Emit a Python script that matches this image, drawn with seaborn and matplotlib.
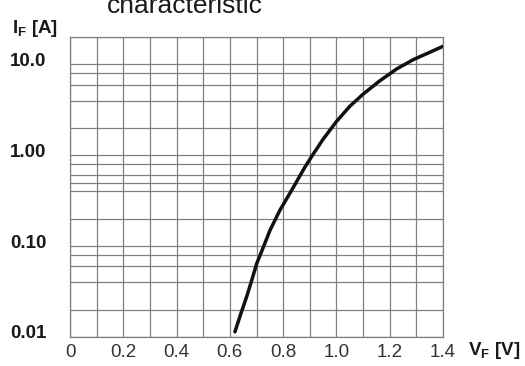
import matplotlib
matplotlib.use("Agg")
import matplotlib.pyplot as plt
import matplotlib.transforms as mtransforms
from matplotlib.ticker import FixedLocator, NullFormatter
import seaborn as sns
import pandas as pd

# ---- data ----
vf_volts = [0.619, 0.641, 0.663, 0.682, 0.701, 0.726, 0.751, 0.788, 0.832, 0.882,
            0.910, 0.950, 1.000, 1.050, 1.100, 1.160, 1.226, 1.289, 1.351, 1.400]
if_amps = [0.0114, 0.018, 0.0277, 0.042, 0.0645, 0.098, 0.150, 0.249, 0.412, 0.743,
           1.0, 1.5, 2.35, 3.45, 4.7, 6.5, 8.9, 11.3, 13.6, 15.8]

x_ticks = [0.0, 0.2, 0.4, 0.6, 0.8, 1.0, 1.2, 1.4]
x_tick_labels = ["0", "0.2", "0.4", "0.6", "0.8", "1.0", "1.2", "1.4"]
x_minor = [0.1, 0.3, 0.5, 0.7, 0.9, 1.1, 1.3]
y_ticks = [0.01, 0.1, 1.0, 10.0]
y_tick_labels = ["0.01", "0.10", "1.00", "10.0"]
y_minor = [0.02, 0.04, 0.06, 0.08, 0.2, 0.4, 0.5, 0.6, 0.8, 2, 4, 6, 8, 20]

title_text = "characteristic"
y_label = "I$_{\\mathregular{F}}$ [A]"
x_label = "V$_{\\mathregular{F}}$ [V]"

sns.set_theme(style="white")
plt.rcParams["font.family"] = ["Liberation Sans", "DejaVu Sans"]

df = pd.DataFrame({"VF": vf_volts, "IF": if_amps})

fig = plt.figure(figsize=(5.25, 3.66), dpi=100)
ax = fig.add_axes([70 / 525, 1 - 337 / 366, (443 - 70) / 525, (337 - 37) / 366])

sns.lineplot(data=df, x="VF", y="IF", ax=ax, color="#111111", linewidth=2.5,
             sort=False, estimator=None, zorder=5)

ax.set_yscale("log")
ax.set_xlim(0, 1.4)
ax.set_ylim(0.01, 20)

ax.set_xticks(x_ticks)
ax.set_xticklabels(x_tick_labels)
ax.xaxis.set_minor_locator(FixedLocator(x_minor))
ax.set_yticks(y_ticks)
ax.set_yticklabels(y_tick_labels)
ax.yaxis.set_minor_locator(FixedLocator(y_minor))
ax.yaxis.set_minor_formatter(NullFormatter())

ax.tick_params(axis="both", which="both", length=0)
ax.tick_params(axis="x", pad=5, labelsize=13.5, labelcolor="#333333")
ax.tick_params(axis="y", pad=17, labelsize=13.5, labelcolor="#1a1a1a")
for lbl in ax.get_yticklabels():
    lbl.set_fontweight("bold")
    lbl.set_transform(lbl.get_transform() + mtransforms.ScaledTranslation(0, 5 / 100, fig.dpi_scale_trans))

ax.grid(True, which="both", axis="both", color="#808080", linewidth=0.9)
for s in ax.spines.values():
    s.set_color("#808080")
    s.set_linewidth(0.9)

ax.set_xlabel("")
ax.set_ylabel("")

fig.text(107 / 525, 1 - 13 / 366, title_text, fontsize=19, color="#1a1a1a",
         ha="left", va="baseline")
fig.text(12 / 525, 1 - 33 / 366, y_label, fontsize=13.5, color="#1a1a1a",
         ha="left", va="baseline", fontweight="bold")
fig.text(468 / 525, 1 - 355 / 366, x_label, fontsize=13.5, color="#1a1a1a",
         ha="left", va="baseline", fontweight="bold")

fig.savefig("out.png", dpi=100, facecolor="white")
